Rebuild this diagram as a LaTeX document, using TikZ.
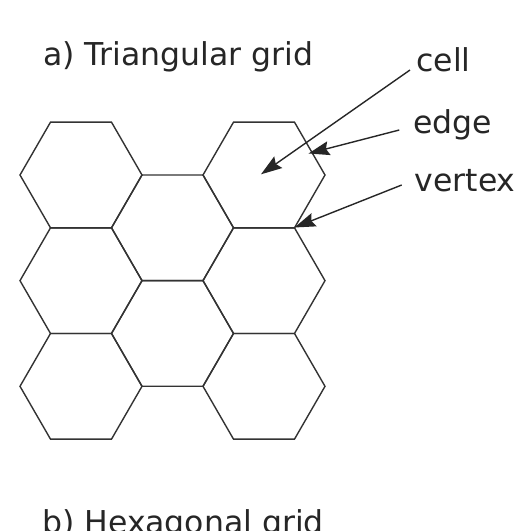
\documentclass[tikz,border=0pt]{standalone}
\usepackage{fontspec}
\setmainfont{DejaVu Sans}
\usetikzlibrary{arrows.meta}
\begin{document}
\begin{tikzpicture}[x=1pt,y=-1pt,
  hexline/.style={line width=1.4pt, draw=black!80, line join=miter},
  lbl/.style={inner sep=0pt, anchor=base west, font=\fontsize{31.5}{38}\selectfont, text=black!85},
  pointer/.style={line width=1.4pt, draw=black!85, -{Stealth[length=21pt,width=14pt,inset=3pt]}}]
\clip (0,0) rectangle (516,531);
\fill[white] (0,0) rectangle (516,531);
\def\R{61}
% hexagonal cells
\foreach \cx/\cy/\nm in {81/175/h00, 81/280.65/h01, 81/386.3/h02,
                          172.5/227.8/h10, 172.5/333.45/h11,
                          264/175/h20, 264/280.65/h21, 264/386.3/h22}{
  \draw[hexline] (\cx,\cy) +(0:\R) -- +(60:\R) -- +(120:\R) -- +(180:\R) -- +(240:\R) -- +(300:\R) -- cycle;
  \coordinate (\nm) at (\cx,\cy);
}
% labels
\node[lbl] (ta) at (43,65) {a) Triangular grid};
\node[lbl] (tb) at (42,533) {b) Hexagonal grid};
\node[lbl] (lcell) at (416.3,71.7) {cell};
\node[lbl] (ledge) at (413.3,133) {edge};
\node[lbl] (lvert) at (414.5,191.7) {vertex};
% pointer ends
\coordinate (scell) at (410,70);
\coordinate (sedge) at (399.3,130);
\coordinate (svert) at (401.7,185);
\coordinate (tcell) at (261,174.3);
\coordinate (tedge) at (308.5,153.5);
\coordinate (tvert) at (294.5,227.5);
\draw[pointer] (scell) -- (tcell);
\draw[pointer] (sedge) -- (tedge);
\draw[pointer] (svert) -- (tvert);
\end{tikzpicture}
\end{document}
